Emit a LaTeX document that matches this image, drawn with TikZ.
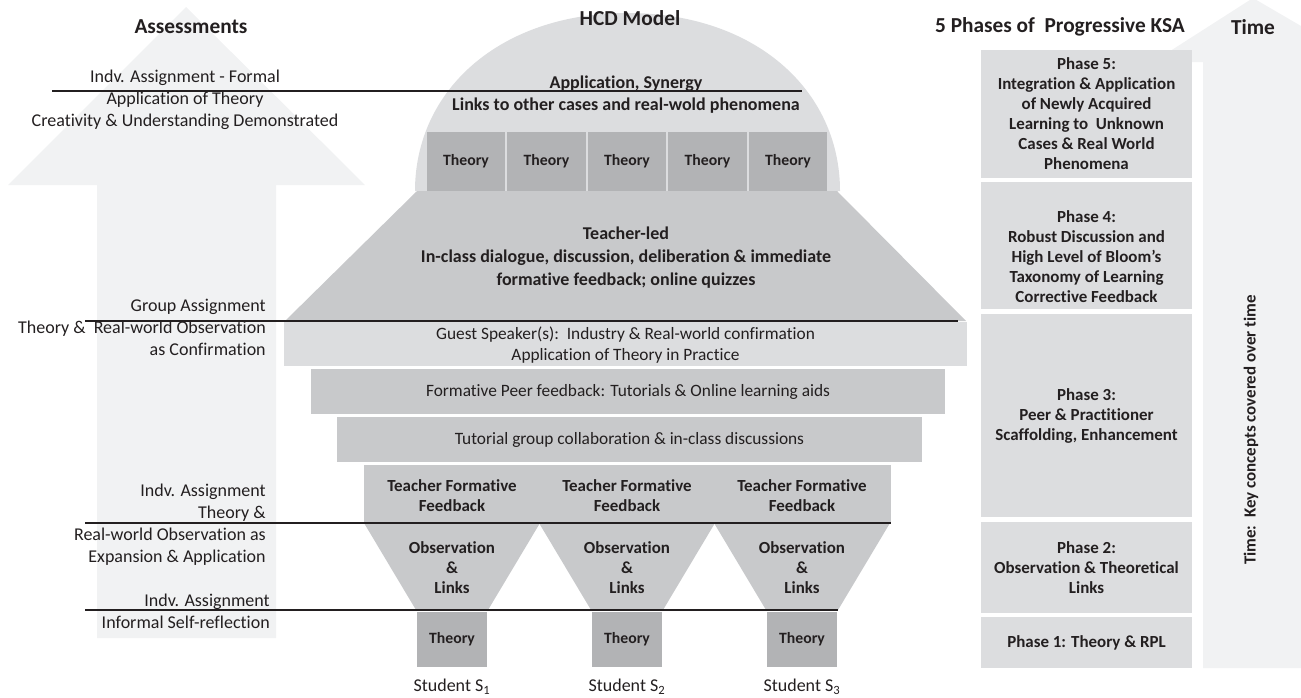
\documentclass[tikz,border=0pt]{standalone}
\usepackage{fontspec}
\setmainfont{Carlito}[Ligatures=NoCommon]
\usetikzlibrary{positioning}

\definecolor{ink}{HTML}{231F20}
\definecolor{faint}{HTML}{F1F2F3}
\definecolor{pale}{HTML}{DCDDDF}
\definecolor{mid}{HTML}{C8C9CB}
\definecolor{deep}{HTML}{B2B3B5}

\begin{document}
\begin{tikzpicture}[x=0.75pt,y=-0.75pt,
	lbl/.style={inner sep=0pt,text=ink,font=\fontsize{13.5}{16.5}\selectfont},
	hd/.style={inner sep=0pt,text=ink,font=\fontsize{16}{19}\selectfont\bfseries},
	big/.style={inner sep=0pt,text=ink,align=center,font=\fontsize{13.5}{17}\selectfont\bfseries},
	bld/.style={inner sep=0pt,text=ink,align=center,font=\fontsize{12.7}{15}\selectfont\bfseries},
	thin/.style={inner sep=0pt,text=ink,align=center,font=\fontsize{13}{15.5}\selectfont},
	tbox/.style={inner sep=0pt,text=ink,fill=deep,font=\fontsize{11.8}{14}\selectfont\bfseries},
	layer/.style={inner sep=0pt,align=center},
	phase/.style={bld,fill=pale,minimum width=211*0.75pt},
	sep/.style={draw=ink,line width=2pt}]
	\useasboundingbox (0,0) rectangle (1301,697);

	% background arrows
	\fill[faint] (8,185) -- (186,7) -- (365,185) -- (276,185) -- (276,638) -- (97,638) -- (97,185) -- cycle;
	\fill[faint] (1153,62) -- (1253,-2) -- (1301,26) -- (1301,668) -- (1203,668) -- (1203,62) -- cycle;

	% dome with the theory blocks
	\fill[pale] (415,191) .. controls (415,90) and (500,13) .. (627.5,13) .. controls (755,13) and (840,90) .. (840,191) -- cycle;
	\foreach \cx [count=\n] in {466,546.5,627,707.5,788}
		\node[tbox,minimum width=78.5*0.75pt,minimum height=59*0.75pt] (D\n) at (\cx,161.5) {Theory};
	\node[big] (syn) at (626,94.5) {Application, Synergy\\Links to other cases and real-wold phenomena};

	% teacher-led trapezoid
	\fill[mid] (417,191) -- (837,191) -- (966,321) -- (285,321) -- cycle;
	\node[big] (led) at (626,257.5) {Teacher-led\\In-class dialogue, discussion, deliberation \& immediate\\formative feedback; online quizzes};

	% stacked layers
	\node[layer,fill=pale,minimum width=683*0.75pt,minimum height=44*0.75pt] (guest) at (625.5,344) {};
	\node[thin] (guestT) at (625.5,345) {Guest Speaker(s):\ \ Industry \& Real-world confirmation\\Application of Theory in Practice};
	\node[layer,fill=mid,minimum width=634*0.75pt,minimum height=45*0.75pt] (peer) at (628,391.5) {};
	\node[thin] (peerT) at (peer) {Formative Peer feedback: Tutorials \& Online learning aids};
	\node[layer,fill=mid,minimum width=585*0.75pt,minimum height=45*0.75pt] (tut) at (629.5,439.5) {};
	\node[thin] (tutT) at (tut) {Tutorial group collaboration \& in-class discussions};
	\node[layer,fill=mid,minimum width=527*0.75pt,minimum height=58*0.75pt] (teach) at (627.5,494) {};

	% one funnel per student
	\foreach \cx [count=\n] in {452,627,802} {
		\fill[mid] (\cx-88,523) -- (\cx+88,523) -- (\cx+36,610) -- (\cx-36,610) -- cycle;
		\node[bld] (F\n) at (\cx,496) {Teacher Formative\\Feedback};
		\node[bld] (O\n) at (\cx,568) {Observation\\\&\\Links};
		\node[tbox,minimum width=70*0.75pt,minimum height=55*0.75pt] (T\n) at (\cx,639.5) {Theory};
		\node[lbl] (S\n) at (\cx,687) {Student S\textsubscript{\n}};
	}

	% headings
	\node[hd] (assess) at (191,27) {Assessments};
	\node[hd] (hcd) at (630,18) {HCD Model};
	\node[hd] (ksa) at (1060,27) {5 Phases of\ \ Progressive KSA};
	\node[hd] (time) at (1253,27) {Time};

	% assessments
	\node[lbl,align=center] (A1) at (185,99.5) {Indv. Assignment - Formal\\Application of Theory\\Creativity \& Understanding Demonstrated};
	\node[lbl,align=right,anchor=east] (A2) at (266,327) {Group Assignment\\Theory \&\ \ Real-world Observation\\as Confirmation};
	\node[lbl,align=right,anchor=east] (A3) at (266,525) {Indv. Assignment\\Theory \&\hspace*{0.3em}\\Real-world Observation as\\Expansion \& Application};
	\node[lbl,align=right,anchor=east] (A4) at (270,611.5) {Indv. Assignment\\Informal Self-reflection};

	% phases
	\node[phase,minimum height=128*0.75pt] (P5) at (1086.5,114) {Phase 5:\\Integration \& Application\\of Newly Acquired\\Learning to\ \ Unknown\\Cases \& Real World\\Phenomena};
	\node[phase,minimum height=127*0.75pt] (P4) at (1086.5,245.5) {};
	\node[bld] (P4T) at (1086.5,257) {Phase 4:\\Robust Discussion and\\High Level of Bloom's\\Taxonomy of Learning\\Corrective Feedback};
	\node[phase,minimum height=203*0.75pt] (P3) at (1086.5,415.5) {Phase 3:\\Peer \& Practitioner\\Scaffolding, Enhancement};
	\node[phase,minimum height=91*0.75pt] (P2) at (1086.5,567.5) {Phase 2:\\Observation \& Theoretical\\Links};
	\node[phase,minimum height=51*0.75pt] (P1) at (1086.5,642.5) {Phase 1: Theory \& RPL};
	\node[bld,rotate=90] (key) at (1251,430) {Time:\ \ Key concepts covered over time};

	% assessment lines
	\coordinate (a1) at (52,91);  \coordinate (b1) at (802,91);
	\coordinate (a2) at (85,321); \coordinate (b2) at (958,321);
	\coordinate (a3) at (85,523); \coordinate (b3) at (891,523);
	\coordinate (a4) at (85,610); \coordinate (b4) at (838,610);
	\foreach \n in {1,...,4}
		\draw[sep] (a\n) -- (b\n);
\end{tikzpicture}
\end{document}
